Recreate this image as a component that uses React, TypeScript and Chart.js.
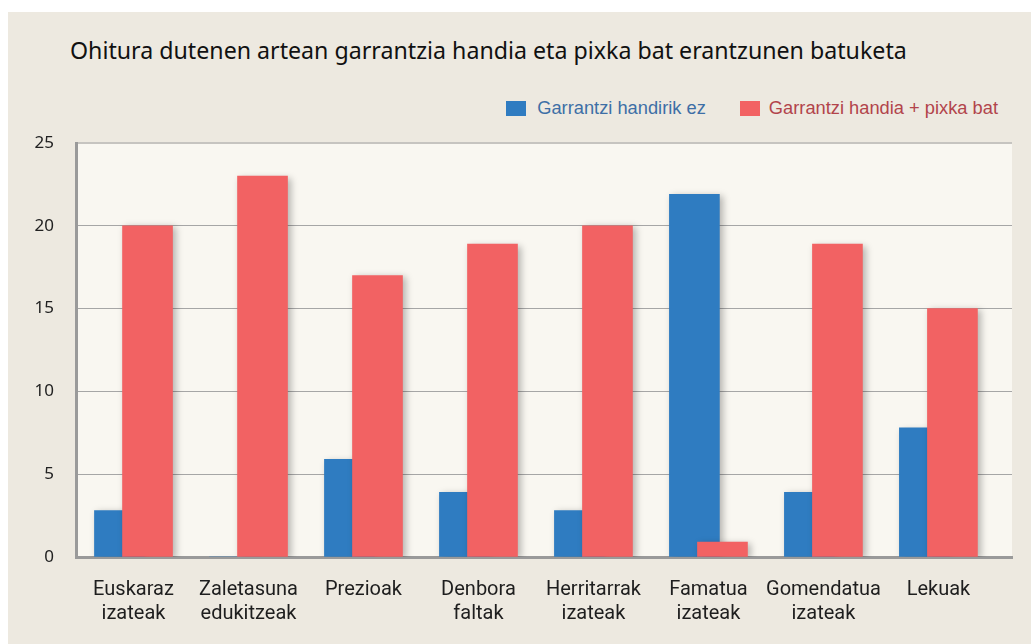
import React, { useEffect, useRef } from "react";
import { Chart, registerables } from "chart.js";

Chart.register(...registerables);

const TITLE = "Ohitura dutenen artean garrantzia handia eta pixka bat erantzunen batuketa";
const categories: string[][] = [
  ["Euskaraz", "izateak"],
  ["Zaletasuna", "edukitzeak"],
  ["Prezioak"],
  ["Denbora", "faltak"],
  ["Herritarrak", "izateak"],
  ["Famatua", "izateak"],
  ["Gomendatua", "izateak"],
  ["Lekuak"],
];
const seriesNames = ["Garrantzi handirik ez", "Garrantzi handia + pixka bat"];
const blueValues = [2.8, 0, 5.9, 3.9, 2.8, 21.9, 3.9, 7.8];
const redValues = [20, 23, 17, 18.9, 20, 0.9, 18.9, 15];
const yTicks = [0, 5, 10, 15, 20, 25];

const BLUE = "#2F7CC1";
const RED = "#F26263";
const BLUE_TEXT = "#3D6FA6";
const RED_TEXT = "#B2444B";
const SHIFT = 0.122; // half of the overlap shift between the two bars (category units)

const plotBg = {
  id: "plotBg",
  beforeDraw(chart: any) {
    const { ctx, chartArea } = chart;
    ctx.save();
    ctx.fillStyle = "#F9F7F1";
    ctx.fillRect(chartArea.left, chartArea.top, chartArea.right - chartArea.left, chartArea.bottom - chartArea.top);
    ctx.restore();
  },
};

const barShadow = {
  id: "barShadow",
  beforeDatasetsDraw(chart: any) {
    const ctx = chart.ctx;
    ctx.save();
    ctx.shadowColor = "rgba(0,0,0,0.28)";
    ctx.shadowBlur = 7;
    ctx.shadowOffsetX = 3;
    ctx.shadowOffsetY = 2;
  },
  afterDatasetsDraw(chart: any) {
    chart.ctx.restore();
  },
};

export default function App() {
  const ref = useRef<HTMLCanvasElement | null>(null);

  useEffect(() => {
    if (!ref.current) return;
    const chart = new Chart(ref.current, {
      type: "bar",
      data: {
        datasets: [
          {
            label: seriesNames[0],
            data: blueValues.map((v, i) => ({ x: i - SHIFT, y: v })),
            backgroundColor: BLUE,
            borderWidth: 0,
            barThickness: 50,
            grouped: false,
            order: 2,
          },
          {
            label: seriesNames[1],
            data: redValues.map((v, i) => ({ x: i + SHIFT, y: v })),
            backgroundColor: RED,
            borderWidth: 0,
            barThickness: 50,
            grouped: false,
            order: 1,
          },
        ],
      },
      options: {
        responsive: false,
        animation: false,
        devicePixelRatio: 1,
        layout: { padding: { left: 27, right: 19, top: 131, bottom: -3 } },
        plugins: {
          legend: { display: false },
          title: { display: false },
          tooltip: { enabled: false },
        },
        scales: {
          x: {
            type: "linear",
            min: -0.5,
            max: 7.64,
            offset: false,
            afterBuildTicks: (s: any) => {
              s.ticks = categories.map((_, i) => ({ value: i }));
              s.min = -0.5;
              s.max = 7.64;
            },
            grid: { display: true, offset: false, drawOnChartArea: false, drawTicks: false, color: "rgba(0,0,0,0)" },
            border: { display: true, color: "#9A9A9A", width: 3 },
            ticks: {
              autoSkip: false,
              maxRotation: 0,
              minRotation: 0,
              padding: 21,
              color: "#1E1E1E",
              font: { family: "Roboto, 'Noto Sans', sans-serif", size: 20, lineHeight: 1.2 },
              callback: (v: any) => (Number.isInteger(v) && categories[v] ? categories[v] : ""),
            },
          },
          y: {
            min: yTicks[0],
            max: yTicks[yTicks.length - 1],
            afterFit: (s: any) => {
              s.width = 41;
            },
            afterBuildTicks: (s: any) => {
              s.ticks = yTicks.map((v) => ({ value: v }));
            },
            grid: {
              drawTicks: false,
              color: (c: any) => (c.tick && c.tick.value === 25 ? "#C6C4C0" : "#A6A6A6"),
              lineWidth: (c: any) => (c.tick && c.tick.value === 25 ? 2 : 1),
            },
            border: { display: true, color: "#9A9A9A", width: 3 },
            ticks: {
              padding: 22,
              color: "#222222",
              font: { family: "'Noto Sans', sans-serif", size: 17 },
            },
          },
        },
      },
      plugins: [plotBg, barShadow],
    } as any);
    return () => chart.destroy();
  }, []);

  return (
    <div
      style={{
        position: "absolute",
        left: 8,
        top: 12,
        width: 1023,
        height: 632,
        background: "#EDE9E0",
        overflow: "hidden",
      }}
    >
      <div
        style={{
          position: "absolute",
          left: 62,
          top: 23,
          fontFamily: "'Noto Sans', sans-serif",
          fontSize: 23.2,
          lineHeight: "30px",
          color: "#111111",
          whiteSpace: "nowrap",
        }}
      >
        {TITLE}
      </div>
      <div
        style={{
          position: "absolute",
          right: 33,
          top: 86,
          height: 20,
          display: "flex",
          alignItems: "center",
          fontFamily: "'Liberation Sans', Arial, sans-serif",
          fontSize: 18.3,
          whiteSpace: "nowrap",
        }}
      >
        <span style={{ display: "inline-block", width: 20, height: 15, background: BLUE, marginRight: 11 }} />
        <span style={{ color: BLUE_TEXT, marginRight: 34 }}>{seriesNames[0]}</span>
        <span style={{ display: "inline-block", width: 20, height: 15, background: RED, marginRight: 9 }} />
        <span style={{ color: RED_TEXT }}>{seriesNames[1]}</span>
      </div>
      <canvas ref={ref} width={1023} height={632} style={{ position: "absolute", left: 0, top: 0, width: 1023, height: 632 }} />
    </div>
  );
}
